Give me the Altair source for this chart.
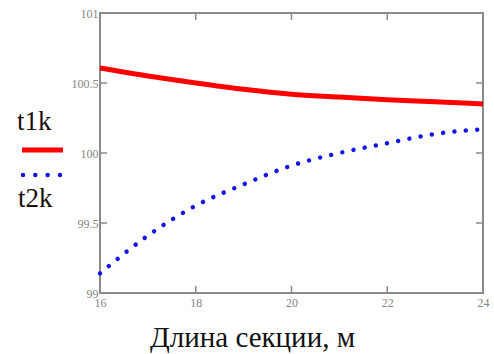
import altair as alt
import pandas as pd

# Data
length_m = [16, 17, 18, 19, 20, 21, 22, 23, 24]
t1k = [100.607, 100.55, 100.50, 100.455, 100.42, 100.40, 100.38, 100.366, 100.35]
t2k = [99.14, 99.41, 99.624, 99.776, 99.91, 100.0, 100.07, 100.136, 100.17]

x_ticks = [16, 18, 20, 22, 24]
y_ticks = [99, 99.5, 100, 100.5, 101]
x_inner_ticks = [18, 20, 22]
y_inner_ticks = [99.5, 100, 100.5]

df = pd.DataFrame({"x": length_m, "t1k": t1k, "t2k": t2k})
xt = pd.DataFrame({"x": x_inner_ticks})
yt = pd.DataFrame({"v": y_inner_ticks})
one = pd.DataFrame({"k": [0]})

W, H = 383, 280
SERIF = "Liberation Serif"
FRAME = "#8a8a8a"
LABEL = "#858585"

xscale = alt.Scale(domain=[16, 24], nice=False, zero=False)
yscale = alt.Scale(domain=[99, 101], nice=False, zero=False)
xaxis = alt.Axis(values=x_ticks, grid=False, domain=False, ticks=False,
                 format="~g",
                 labelFont=SERIF, labelFontSize=12, labelColor=LABEL,
                 labelPadding=4, labelFlush=False,
                 title="Длина секции, м", titleFont=SERIF, titleFontSize=29,
                 titleFontWeight="normal", titleColor="#111111",
                 titleX=152, titleY=53, titleAlign="center",
                 titleBaseline="alphabetic")
yaxis = alt.Axis(values=y_ticks, grid=False, domain=False, ticks=False,
                 format="~g",
                 labelFont=SERIF, labelFontSize=12, labelColor=LABEL,
                 labelPadding=2, labelFlush=False, title="")

X = alt.X("x:Q", scale=xscale, axis=xaxis)

red = alt.Chart(df).mark_line(color="#ff0000", strokeWidth=5,
                              interpolate="monotone").encode(
    x=X, y=alt.Y("t1k:Q", scale=yscale, axis=yaxis))

blue = alt.Chart(df).mark_line(color="#1414e6", strokeWidth=4.5,
                               strokeCap="round", strokeDash=[0.01, 11.4],
                               interpolate="monotone").encode(
    x=X, y=alt.Y("t2k:Q", scale=yscale, axis=yaxis))

tick_bottom = alt.Chart(xt).mark_rule(color=FRAME, strokeWidth=1.5).encode(
    x=X, y=alt.value(H), y2=alt.value(H - 7))
tick_top = alt.Chart(xt).mark_rule(color=FRAME, strokeWidth=1.5).encode(
    x=X, y=alt.value(0), y2=alt.value(7))
tick_left = alt.Chart(yt).mark_rule(color=FRAME, strokeWidth=1.5).encode(
    y=alt.Y("v:Q", scale=yscale, axis=yaxis), x=alt.value(0), x2=alt.value(7))
tick_right = alt.Chart(yt).mark_rule(color=FRAME, strokeWidth=1.5).encode(
    y=alt.Y("v:Q", scale=yscale, axis=yaxis), x=alt.value(W), x2=alt.value(W - 7))

leg1 = alt.Chart(one).mark_text(text="t1k", font=SERIF, fontSize=27,
                                color="#1a1008", align="left",
                                baseline="alphabetic").encode(
    x=alt.value(-83), y=alt.value(117))
leg2 = alt.Chart(one).mark_text(text="t2k", font=SERIF, fontSize=27,
                                color="#1a1008", align="left",
                                baseline="alphabetic").encode(
    x=alt.value(-82), y=alt.value(194))
leg_line = alt.Chart(one).mark_rule(color="#ff0000", strokeWidth=5).encode(
    x=alt.value(-78), x2=alt.value(-37), y=alt.value(137))
leg_dots = alt.Chart(one).mark_rule(color="#1414e6", strokeWidth=4.5,
                                    strokeCap="round",
                                    strokeDash=[0.01, 12.3]).encode(
    x=alt.value(-77), x2=alt.value(-39), y=alt.value(162))

chart = alt.layer(red, blue, tick_bottom, tick_top, tick_left, tick_right,
                  leg1, leg2, leg_line, leg_dots).properties(
    width=W, height=H,
    autosize=alt.AutoSizeParams(type="none"),
    padding={"left": 100, "top": 13, "right": 11, "bottom": 61},
    background="white",
).configure_view(stroke=FRAME, strokeWidth=2).configure_axis(
    labelFont=SERIF, titleFont=SERIF)

chart.save("out.html", embed_options={"renderer": "svg", "actions": False})
